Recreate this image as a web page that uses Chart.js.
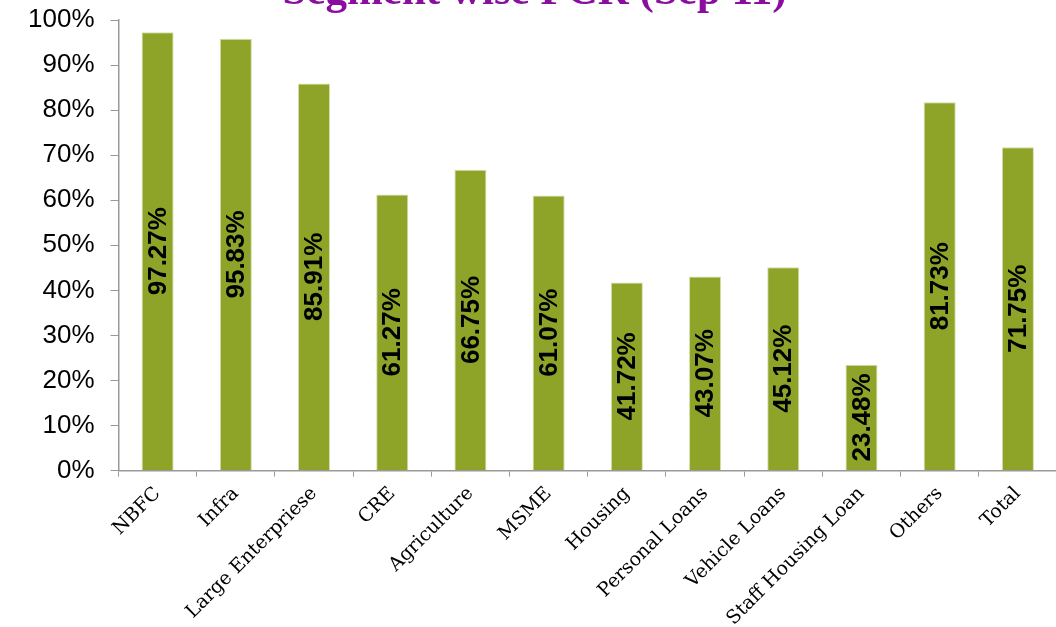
<!DOCTYPE html>
<html>
<head>
<meta charset="utf-8">
<script src="https://cdn.jsdelivr.net/npm/chart.js@4"></script>
<style>
    html, body { margin: 0; padding: 0; background: #fff; overflow: hidden; }
    #wrap { position: absolute; left: 0; top: -29px; }
</style>
</head>
<body>
<div id="wrap"><canvas id="pcrChart" width="1070" height="665"></canvas></div>
<script>
let segments = ["NBFC", "Infra", "Large Enterpriese", "CRE", "Agriculture", "MSME", "Housing",
    "Personal Loans", "Vehicle Loans", "Staff Housing Loan", "Others", "Total"];
let pcrValues = [97.27, 95.83, 85.91, 61.27, 66.75, 61.07, 41.72, 43.07, 45.12, 23.48, 81.73, 71.75];
let yTicks = [0, 10, 20, 30, 40, 50, 60, 70, 80, 90, 100];

// write the value inside each bar, turned upright
const barLabels = {
    id: "barLabels",
    afterDatasetsDraw(chart) {
        const ctx = chart.ctx;
        const meta = chart.getDatasetMeta(0);
        ctx.save();
        ctx.font = "bold 26px 'Liberation Sans', Arial, sans-serif";
        ctx.fillStyle = "#000";
        ctx.textAlign = "center";
        ctx.textBaseline = "middle";
        meta.data.forEach((bar, i) => {
            let midY = (bar.y + bar.base) / 2;
            ctx.save();
            ctx.translate(bar.x, midY);
            ctx.rotate(-Math.PI / 2);
            ctx.fillText(pcrValues[i].toFixed(2) + "%", 0, 1);
            ctx.restore();
        });
        ctx.restore();
    }
};

let ctx = document.getElementById("pcrChart").getContext("2d");
new Chart(ctx, {
    type: "bar",
    data: {
        labels: segments,
        datasets: [{
            label: "PCR",
            data: pcrValues,
            backgroundColor: "#8EA428",
            borderColor: "#D6DEAA",
            borderWidth: 1,
            barPercentage: 0.41,
            categoryPercentage: 1
        }]
    },
    plugins: [barLabels],
    options: {
        responsive: false,
        animation: false,
        layout: { padding: { left: 12, right: 13, top: 0, bottom: 0 } },
        plugins: {
            legend: { display: false },
            tooltip: { enabled: false },
            title: {
                display: true,
                text: "Segment wise PCR (Sep 11)",
                color: "#8A0DA0",
                font: { family: "'Liberation Serif', serif", size: 43, weight: "bold", lineHeight: 1 },
                padding: { top: 0, bottom: 6 }
            }
        },
        scales: {
            x: {
                grid: { display: true, drawOnChartArea: false, offset: true, tickLength: 6, color: "#999" },
                border: { color: "#999", width: 1.5 },
                ticks: {
                    minRotation: 45,
                    maxRotation: 45,
                    color: "#000",
                    padding: 6,
                    font: { family: "'DejaVu Serif', serif", size: 19 }
                }
            },
            y: {
                min: 0,
                max: 100,
                afterBuildTicks: axis => { axis.ticks = yTicks.map(v => ({ value: v })); },
                grid: { display: true, drawOnChartArea: false, tickLength: 8, color: "#999" },
                border: { color: "#999", width: 1.5 },
                ticks: {
                    color: "#000",
                    padding: 16,
                    font: { family: "'Liberation Sans', Arial, sans-serif", size: 26 },
                    callback: v => v + "%"
                }
            }
        }
    }
});
</script>
</body>
</html>
